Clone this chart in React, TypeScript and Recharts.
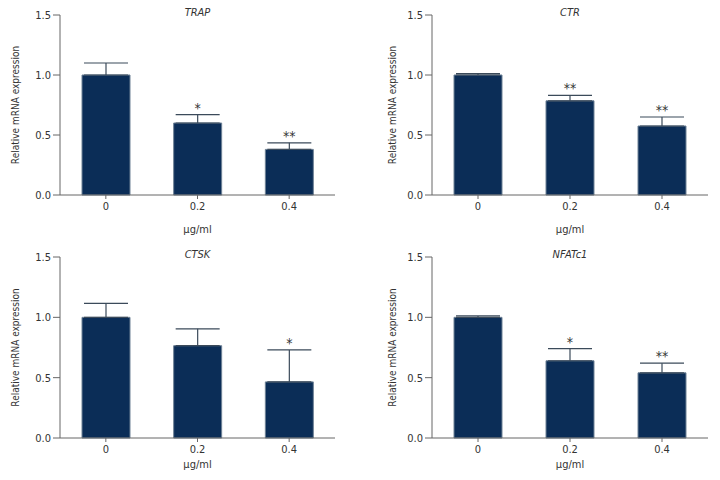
import { Bar, BarChart, ErrorBar, LabelList, XAxis, YAxis } from 'recharts'

const doses = ['0', '0.2', '0.4']

const trapMean = [1.0, 0.6, 0.38]
const trapErr = [0.1, 0.07, 0.055]
const trapStars = ['', '*', '**']

const ctrMean = [1.0, 0.785, 0.575]
const ctrErr = [0.012, 0.045, 0.075]
const ctrStars = ['', '**', '**']

const ctskMean = [1.0, 0.765, 0.465]
const ctskErr = [0.115, 0.14, 0.265]
const ctskStars = ['', '', '*']

const nfatMean = [1.0, 0.64, 0.54]
const nfatErr = [0.012, 0.1, 0.08]
const nfatStars = ['', '*', '**']

const yTicks = [0, 0.5, 1.0, 1.5]

const FONT = '"Liberation Sans Narrow", "DejaVu Sans Condensed", "DejaVu Sans", sans-serif'
const BAR_FILL = '#0b2d57'
const AXIS = '#666'

interface PanelProps {
  title: string
  means: number[]
  errs: number[]
  stars: string[]
  x: number
  y: number
  left: number
  right: number
  top: number
  bottom: number
  labelOffset: number
  labelDx: number
}

function Panel({ title, means, errs, stars, x, y, left, right, top, bottom, labelOffset, labelDx }: PanelProps) {
  const data = doses.map((d, i) => ({
    dose: d,
    mean: means[i],
    err: [0, errs[i]],
    errVal: errs[i],
    star: stars[i],
  }))

  const starLabel = (props: any) => {
    const { x: bx, y: by, width, height, index } = props
    const row = data[index]
    if (!row.star) return null
    const pxPerUnit = height / row.mean
    const capY = by - row.errVal * pxPerUnit
    return (
      <text
        x={bx + width / 2}
        y={capY - 2}
        textAnchor="middle"
        fontSize={14}
        fill="#333"
        fontFamily={FONT}
      >
        {row.star}
      </text>
    )
  }

  const plotW = 360 - left - 60 - right

  return (
    <div style={{ position: 'absolute', left: x, top: y, width: 360, height: 240, fontStretch: 'condensed' }}>
      <div
        style={{
          position: 'absolute',
          left: left + 60,
          width: plotW,
          top: top - 9,
          textAlign: 'center',
          fontFamily: FONT,
          fontStretch: 'condensed',
          fontStyle: 'italic',
          fontSize: 11,
          color: '#333',
        }}
      >
        {title}
      </div>
      <BarChart
        width={360}
        height={240}
        data={data}
        margin={{ top, right, left, bottom: 0 }}
      >
        <XAxis
          dataKey="dose"
          height={bottom}
          stroke={AXIS}
          tickSize={4}
          tickMargin={3}
          tick={{ fill: '#333', fontSize: 11, fontFamily: FONT }}
          label={{
            value: 'μg/ml',
            position: 'insideBottom',
            offset: labelOffset,
            fill: '#333',
            fontSize: 11,
            fontFamily: FONT,
          }}
        />
        <YAxis
          width={60}
          domain={[0, 1.5]}
          ticks={yTicks}
          tickFormatter={(v: number) => v.toFixed(1)}
          stroke={AXIS}
          tickSize={7}
          tickMargin={2}
          tick={{ fill: '#333', fontSize: 11, fontFamily: FONT }}
          label={{
            value: 'Relative mRNA expression',
            angle: -90,
            position: 'insideLeft',
            dx: labelDx,
            fill: '#333',
            fontSize: 10,
            fontFamily: FONT,
            style: { textAnchor: 'middle' },
          }}
        />
        <Bar
          dataKey="mean"
          fill={BAR_FILL}
          stroke="#6f8296"
          strokeWidth={1}
          barSize={48}
          isAnimationActive={false}
        >
          <ErrorBar dataKey="err" direction="y" width={22} stroke="#3b4a5a" strokeWidth={1.2} />
          <LabelList dataKey="star" content={starLabel} />
        </Bar>
      </BarChart>
    </div>
  )
}

export default function App() {
  return (
    <div style={{ position: 'absolute', left: 0, top: 0, width: 720, height: 480, background: '#fff' }}>
      <Panel title="TRAP" means={trapMean} errs={trapErr} stars={trapStars}
        x={0} y={0} left={0} right={25} top={15} bottom={45} labelOffset={7} labelDx={10} />
      <Panel title="CTR" means={ctrMean} errs={ctrErr} stars={ctrStars}
        x={360} y={0} left={12} right={12} top={15} bottom={45} labelOffset={7} labelDx={15} />
      <Panel title="CTSK" means={ctskMean} errs={ctskErr} stars={ctskStars}
        x={0} y={240} left={0} right={25} top={17} bottom={42} labelOffset={12} labelDx={10} />
      <Panel title="NFATc1" means={nfatMean} errs={nfatErr} stars={nfatStars}
        x={360} y={240} left={12} right={12} top={17} bottom={42} labelOffset={12} labelDx={15} />
    </div>
  )
}
